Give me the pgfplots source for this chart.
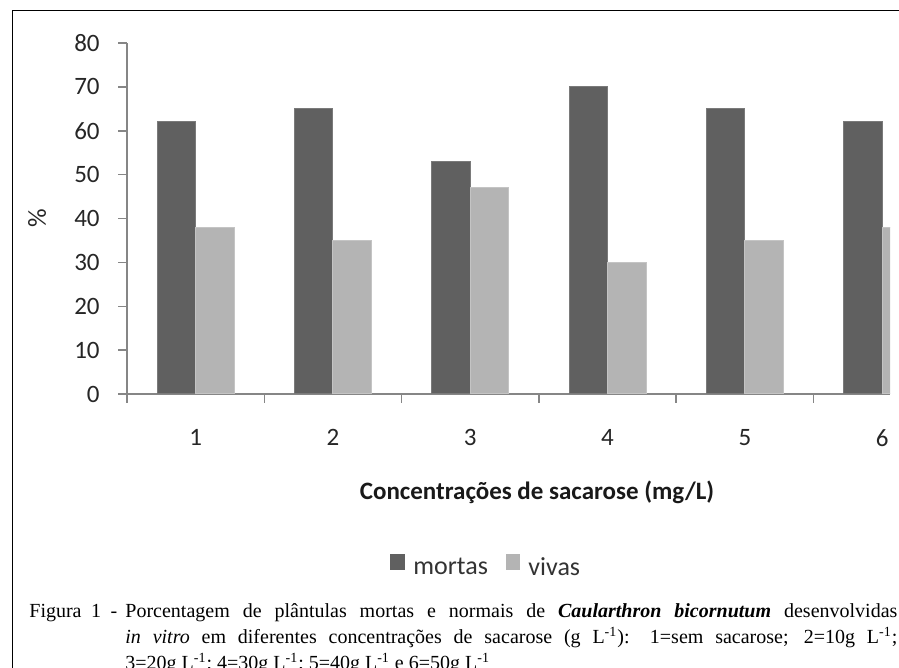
\documentclass[border=0pt]{standalone}
\usepackage{fontspec}
\setmainfont{Carlito}
\newfontfamily\timesf{Liberation Serif}
\usepackage{pgfplots}
\pgfplotsset{compat=1.18}
\definecolor{mortas}{HTML}{606060}
\definecolor{mortasedge}{HTML}{7A7A7A}
\definecolor{vivas}{HTML}{B4B4B4}
\definecolor{vivasedge}{HTML}{C4C4C4}
\definecolor{axisgray}{HTML}{868686}
\begin{document}
\begin{tikzpicture}
\useasboundingbox (0,0) rectangle (449.5pt,334pt);
\draw[line width=0.8pt] (6.15pt,-20pt) -- (6.15pt,328.75pt) -- (470pt,328.75pt);
\begin{axis}[
  at={(63.5pt,137pt)}, anchor=south west,
  scale only axis, width=381.5pt, height=175.5pt,
  xmin=0.5, xmax=6.057, ymin=0, ymax=80,
  axis x line*=bottom, axis y line*=left,
  axis line style={axisgray, line width=0.75pt},
  ybar,
  xtick={1,2,3,4,5,6},
  minor xtick={0.5,1.5,2.5,3.5,4.5,5.5},
  ytick={0,10,...,80},
  tick align=outside,
  major tick length=4.5pt, minor tick length=4.5pt,
  major x tick style={draw=none},
  minor x tick style={axisgray, line width=0.75pt},
  ytick style={axisgray, line width=0.75pt},
  /pgf/number format/assume math mode=true,
  ticklabel style={font=\fontsize{12.5pt}{15pt}\selectfont, text=black!85},
  yticklabel style={anchor=east, inner sep=0pt, xshift=-9pt},
  xticklabel style={anchor=north, inner sep=0pt, yshift=-13pt},
  legend style={at={(0.4718,-0.4957)}, anchor=center, draw=none,
    font=\fontsize{13pt}{15pt}\selectfont, text=black!80,
    /tikz/every odd column/.append style={column sep=2pt},
    /tikz/every even column/.append style={column sep=7pt}},
  legend columns=2,
]
\addplot[fill=mortas, draw=mortasedge, line width=0.5pt, bar width=19.25pt, bar shift=-9.625pt,
  legend image code/.code={\fill[mortas] (0pt,-1pt) rectangle (7.25pt,6.5pt);}]
  coordinates {(1,62) (2,65) (3,53) (4,70) (5,65) (6,62)};
\addplot[fill=vivas, draw=vivasedge, line width=0.5pt, bar width=19.25pt, bar shift=9.625pt,
  legend image code/.code={\fill[vivas] (0pt,-1pt) rectangle (6.75pt,6.5pt);}]
  coordinates {(1,38) (2,35) (3,47) (4,30) (5,35) (6,38)};
\legend{mortas, vivas}
\end{axis}
\node[rotate=90, font=\fontsize{13pt}{15pt}\selectfont, text=black!85] at (18.5pt,225pt) {\%};
\node[anchor=base, font=\bfseries\fontsize{12.5pt}{15pt}\selectfont, text=black!90] at (268.5pt,84pt) {Concentrações de sacarose (mg/L)};
\begin{scope}[every node/.style={anchor=base west, inner sep=0pt, font=\timesf\fontsize{10pt}{12.75pt}\selectfont}]
\node at (14.5pt,25pt) {\makebox[44pt][s]{Figura 1 -}};
\node at (62.5pt,25pt) {\makebox[386pt][s]{Porcentagem de plântulas mortas e normais de \textbf{\textit{Caularthron bicornutum}} desenvolvidas}};
\node at (62.5pt,12pt) {\makebox[386pt][s]{\textit{in vitro} em diferentes concentrações de sacarose (g L\textsuperscript{-1}): 1=sem sacarose; 2=10g L\textsuperscript{-1};}};
\node at (62.5pt,-0.75pt) {3=20g L\textsuperscript{-1}; 4=30g L\textsuperscript{-1}; 5=40g L\textsuperscript{-1} e 6=50g L\textsuperscript{-1}};
\end{scope}
\end{tikzpicture}
\end{document}
